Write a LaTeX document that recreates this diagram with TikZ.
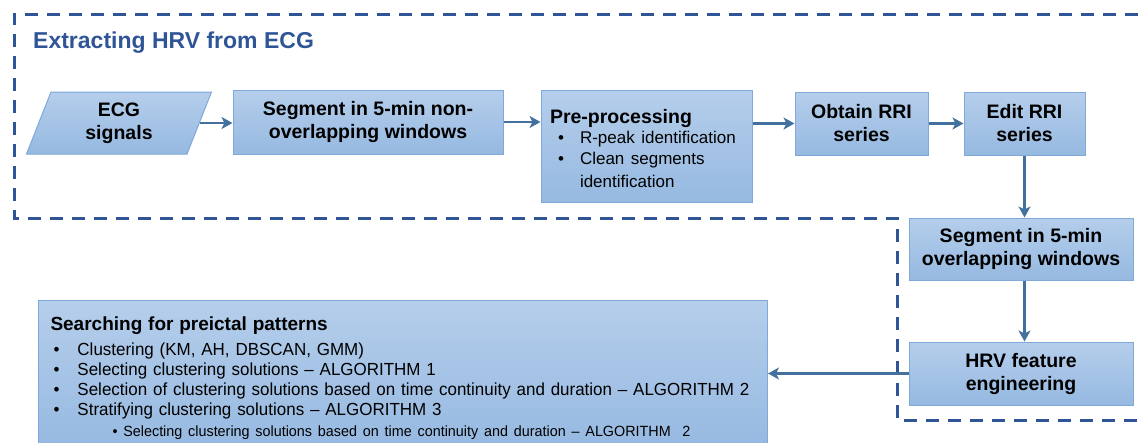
\documentclass[tikz,border=0pt]{standalone}
\usepackage{fontspec}
\setmainfont{Liberation Sans}
\newfontfamily\narrowfont[FakeStretch=0.97]{Liberation Sans}
\usetikzlibrary{shapes.geometric,arrows.meta}
\definecolor{dashblue}{HTML}{2F5597}
\definecolor{arrowcol}{HTML}{41719C}
\definecolor{boxtop}{HTML}{B5CEEB}
\definecolor{boxbot}{HTML}{96B9E1}
\definecolor{boxline}{HTML}{7FA9D8}
\tikzset{
  flowbox/.style={draw=boxline, line width=1pt, top color=boxtop, bottom color=boxbot,
    align=center, inner sep=0pt, font=\bfseries\fontsize{19.5}{23}\selectfont},
  flowarrow/.style={draw=arrowcol, line width=2.6pt, -{Stealth[length=11pt,width=12pt,inset=3pt]}},
  groupline/.style={draw=dashblue, line width=3pt, dash pattern=on 13pt off 9pt}
}
\begin{document}
\begin{tikzpicture}[x=1pt,y=-1pt]
\useasboundingbox (0,0) rectangle (1138,442);
\clip (0,0) rectangle (1138,442);
% group outline
\draw[groupline] (1138,14) -- (14,14) -- (14,218) -- (897,218) -- (897,420) -- (1138,420);
\node[anchor=west, text=dashblue, font=\bfseries\fontsize{23}{27}\selectfont, inner sep=0pt] (title) at (33,43) {Extracting HRV from ECG};
% nodes
\node[flowbox, shape=trapezium, trapezium left angle=59, trapezium right angle=121,
  trapezium stretches body, minimum width=185pt, minimum height=62pt] (ecg) at (119,123) {ECG\\signals};
\node[flowbox, minimum width=270pt, minimum height=64pt] (seg1) at (368,122) {Segment in 5-min non-\\overlapping windows};
\node[flowbox, minimum width=211pt, minimum height=112pt, text width=193pt, align=left] (pre) at (646.5,146)
  {\rule{0pt}{20pt}Pre-processing\\[-1pt]
   \mdseries\fontsize{17}{21}\selectfont
   \makebox[30pt][l]{\hspace{8pt}\textbullet}R-peak identification\\
   \makebox[30pt][l]{\hspace{8pt}\textbullet}Clean segments\\
   \hspace*{30pt}identification};
\node[flowbox, minimum width=133pt, minimum height=63pt] (obtain) at (861.5,123.5) {Obtain RRI\\series};
\node[flowbox, minimum width=121pt, minimum height=63pt] (edit) at (1024.5,123.5) {Edit RRI\\series};
\node[flowbox, minimum width=224pt, minimum height=62pt] (seg2) at (1021,249) {Segment in 5-min\\overlapping windows};
\node[flowbox, minimum width=224pt, minimum height=63pt] (hrv) at (1021,373.5) {HRV feature\\engineering};
\node[flowbox, anchor=north west, minimum width=729pt, minimum height=148pt, text width=705pt, align=left,
  font=\narrowfont\fontsize{17.5}{20.3}\selectfont] (search) at (38,300)
  {{\rmfamily\bfseries\fontsize{19}{20.3}\selectfont\rule{0pt}{21pt}Searching for preictal patterns}\\[4pt]
   \makebox[27pt][l]{\hspace{3pt}\textbullet}Clustering (KM, AH, DBSCAN, GMM)\\
   \makebox[27pt][l]{\hspace{3pt}\textbullet}Selecting clustering solutions – ALGORITHM 1\\
   \makebox[27pt][l]{\hspace{3pt}\textbullet}Selection of clustering solutions based on time continuity and duration – ALGORITHM 2\\
   \makebox[27pt][l]{\hspace{3pt}\textbullet}Stratifying clustering solutions – ALGORITHM 3\\
   {\fontsize{14.8}{20.3}\selectfont\hspace*{62pt}\textbullet\ Selecting clustering solutions based on time continuity and duration – ALGORITHM\ \ 2}};
% connectors
\draw[flowarrow] (ecg.east) -- (seg1.west |- ecg.east);
\draw[flowarrow] (seg1.east) -- (pre.west |- seg1.east);
\draw[flowarrow] (pre.east |- obtain.west) -- (obtain.west);
\draw[flowarrow] (obtain.east) -- (edit.west);
\draw[flowarrow] (edit.south) -- (edit.south |- seg2.north);
\draw[flowarrow] (seg2.south -| edit.south) -- (edit.south |- hrv.north);
\draw[flowarrow] (hrv.west) -- (search.east |- hrv.west);
\end{tikzpicture}
\end{document}
